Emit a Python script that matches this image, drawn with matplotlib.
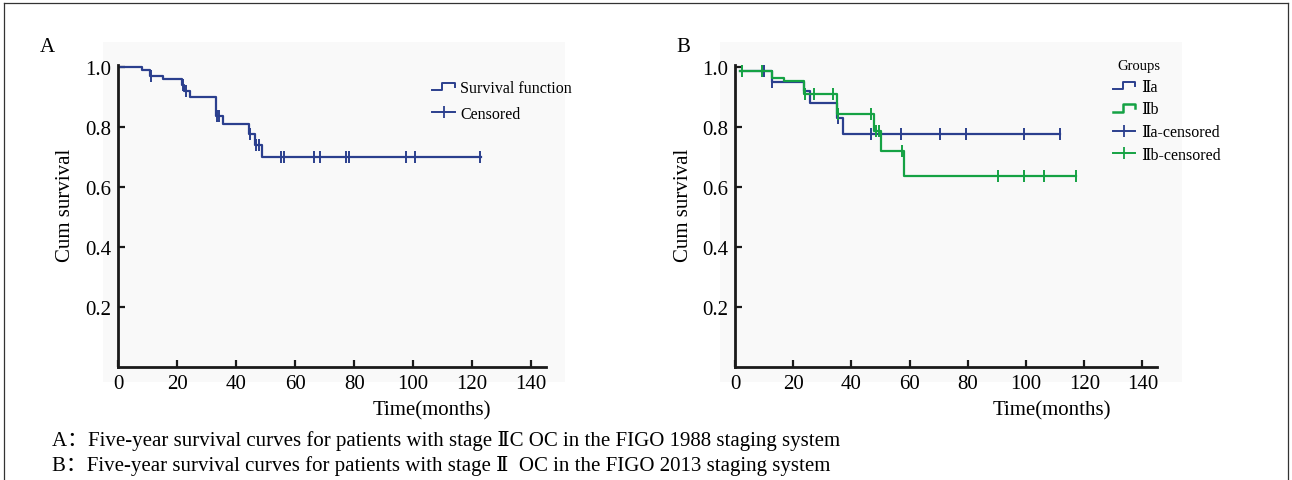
import numpy as np
import matplotlib as m
m.use('Agg')
import matplotlib.pyplot as plt
from matplotlib.lines import Line2D
from matplotlib.patches import Rectangle
from matplotlib.legend_handler import HandlerBase

# panel A: FIGO 1988, stage IIC (step curve)
a_time = [0, 8.2, 10.8, 15.4, 21.6, 22.4, 24.4, 33.2, 35.5, 44.3, 46.5, 48.7, 123]
a_surv = [1.0, 0.988, 0.970, 0.957, 0.940, 0.918, 0.900, 0.834, 0.809, 0.777, 0.740, 0.698, 0.698]
a_cens = [11.1, 22.1, 23.0, 33.4, 34.2, 44.6, 46.7, 47.6, 55.3, 56.4, 66.5, 68.5,
          77.4, 78.3, 97.6, 100.6, 122.7]

# panel B: FIGO 2013, stage IIa / IIb
b1_time = [1.7, 12.6, 23.6, 25.9, 35.1, 37.1, 111.5]
b1_surv = [0.984, 0.947, 0.918, 0.879, 0.829, 0.775, 0.775]
b1_cens = [9.8, 12.8, 35.3, 46.6, 57.2, 70.3, 79.3, 99.4, 111.5]

b2_time = [1.7, 12.6, 16.7, 23.6, 35.1, 47.7, 50.0, 58.0, 117.2]
b2_surv = [0.984, 0.963, 0.951, 0.909, 0.843, 0.787, 0.718, 0.634, 0.634]
b2_cens = [2.3, 9.2, 24.1, 27.0, 33.8, 35.5, 46.6, 48.6, 49.4, 57.5, 90.2, 99.4, 106.3, 117.2]

xticks = [0, 20, 40, 60, 80, 100, 120, 140]
yticks = [0.2, 0.4, 0.6, 0.8, 1.0]

cap_a = 'A：Five-year survival curves for patients with stage ⅡC OC in the FIGO 1988 staging system'
cap_b = 'B：Five-year survival curves for patients with stage Ⅱ  OC in the FIGO 2013 staging system'

W, H = 1292., 481.


class StepHandler(HandlerBase):
  # little step glyph used by SPSS for the survival function
  def create_artists(self, legend, orig_handle, xdescent, ydescent, width, height, fontsize, trans):
    xs = np.array([0, 0.45, 0.45, 1.0, 1.0]) * width - xdescent
    ys = np.array([0.15, 0.15, 0.8, 0.8, 0.45]) * height - ydescent
    ln = Line2D(xs, ys, color=orig_handle.get_color(), linewidth=orig_handle.get_linewidth())
    ln.set_transform(trans)
    return [ln]


def step_at(times, surv, t):
  i = np.searchsorted(times, t, side='right') - 1
  return np.array(surv)[np.clip(i, 0, len(surv) - 1)]


def style_axis(ax):
  ax.set_xlim(0, 145)
  ax.set_ylim(0, 1.005)
  ax.set_xticks(xticks)
  ax.set_yticks(yticks)
  ax.set_yticklabels(['%.1f' % v for v in yticks])
  ax.spines['top'].set_visible(False)
  ax.spines['right'].set_visible(False)
  for s in ['left', 'bottom']:
    ax.spines[s].set_linewidth(2.0)
    ax.spines[s].set_color('#1a1a1a')
  ax.tick_params(direction='in', length=5, width=1.6, labelsize=15, pad=5, color='#1a1a1a')
  ax.set_facecolor('none')
  ax.set_ylabel('Cum survival', fontsize=15)
  ax.yaxis.set_label_coords(-0.100, 0.54)
  ax.set_xlabel('Time(months)', fontsize=15)


def draw_km(ax, t, s, c, col):
  ax.step(t, s, where='post', color=col, linewidth=1.6)
  ax.plot(c, step_at(t, s, c), linestyle='none', marker='|', markersize=8,
          markeredgewidth=1.4, color=col)


def main():
  plt.rcParams['font.family'] = ['Liberation Serif', 'DejaVu Serif', 'Noto Sans CJK SC']

  colors = ['#2b3f8e', '#15a244']

  fig = plt.figure(figsize=(W / 100, H / 100), dpi=100)

  # light grey panel backgrounds and the open frame round the figure
  fig.add_artist(Rectangle((103 / W, 1 - 383 / H), 462 / W, 340 / H, transform=fig.transFigure,
                           facecolor='#f9f9f9', edgecolor='none', zorder=0))
  fig.add_artist(Rectangle((720 / W, 1 - 383 / H), 462 / W, 340 / H, transform=fig.transFigure,
                           facecolor='#f9f9f9', edgecolor='none', zorder=0))
  for xs, ys in [([4, 4], [4, 481]), ([4, 1288], [4, 4]), ([1288, 1288], [4, 481])]:
    fig.add_artist(Line2D(np.array(xs) / W, 1 - np.array(ys) / H, color='#333333', linewidth=0.9))

  axA = fig.add_axes([118 / W, 1 - 368 / H, 428 / W, 302 / H])
  axB = fig.add_axes([735 / W, 1 - 368 / H, 422 / W, 302 / H])

  draw_km(axA, a_time, a_surv, a_cens, colors[0])
  style_axis(axA)
  axA.xaxis.set_label_coords(0.734, -0.111)

  draw_km(axB, b1_time, b1_surv, b1_cens, colors[0])
  draw_km(axB, b2_time, b2_surv, b2_cens, colors[1])
  style_axis(axB)
  axB.xaxis.set_label_coords(0.751, -0.111)

  fig.text(47 / W, 1 - 48 / H, 'A', fontsize=15, ha='center', va='center')
  fig.text(683 / W, 1 - 48 / H, 'B', fontsize=15, ha='center', va='center')

  # legend A
  hA = [Line2D([], [], color=colors[0], linewidth=1.4),
        Line2D([], [], color=colors[0], linewidth=1.4, marker='|', markersize=9, markeredgewidth=1.3)]
  axA.legend(hA, ['Survival function', 'Censored'], handler_map={hA[0]: StepHandler()},
             loc='upper left', bbox_to_anchor=(432 / W, 1 - 81 / H), bbox_transform=fig.transFigure,
             frameon=False, fontsize=11.5, handlelength=1.45, handletextpad=0.3,
             labelspacing=0.6, borderpad=0, borderaxespad=0)

  # legend B
  hB = [Line2D([], [], color=colors[0], linewidth=1.4),
        Line2D([], [], color=colors[1], linewidth=1.8),
        Line2D([], [], color=colors[0], linewidth=1.4, marker='|', markersize=9, markeredgewidth=1.3),
        Line2D([], [], color=colors[1], linewidth=1.4, marker='|', markersize=9, markeredgewidth=1.3)]
  legB = axB.legend(hB, ['Ⅱa', 'Ⅱb', 'Ⅱa-censored', 'Ⅱb-censored'],
                    handler_map={hB[0]: StepHandler(), hB[1]: StepHandler()},
                    loc='upper left', bbox_to_anchor=(1113 / W, 1 - 60 / H), bbox_transform=fig.transFigure,
                    frameon=False, fontsize=11.5, handlelength=1.4, handletextpad=0.35,
                    labelspacing=0.42, borderpad=0, borderaxespad=0,
                    title='Groups', title_fontsize=10.5, alignment='left')
  legB.get_title().set_position((4, 0))

  fig.text(52 / W, 1 - 441 / H, cap_a, fontsize=15, ha='left', va='center')
  fig.text(52 / W, 1 - 466 / H, cap_b, fontsize=15, ha='left', va='center')

  plt.savefig('out.png', dpi=100)


if __name__ == '__main__':
  main()
